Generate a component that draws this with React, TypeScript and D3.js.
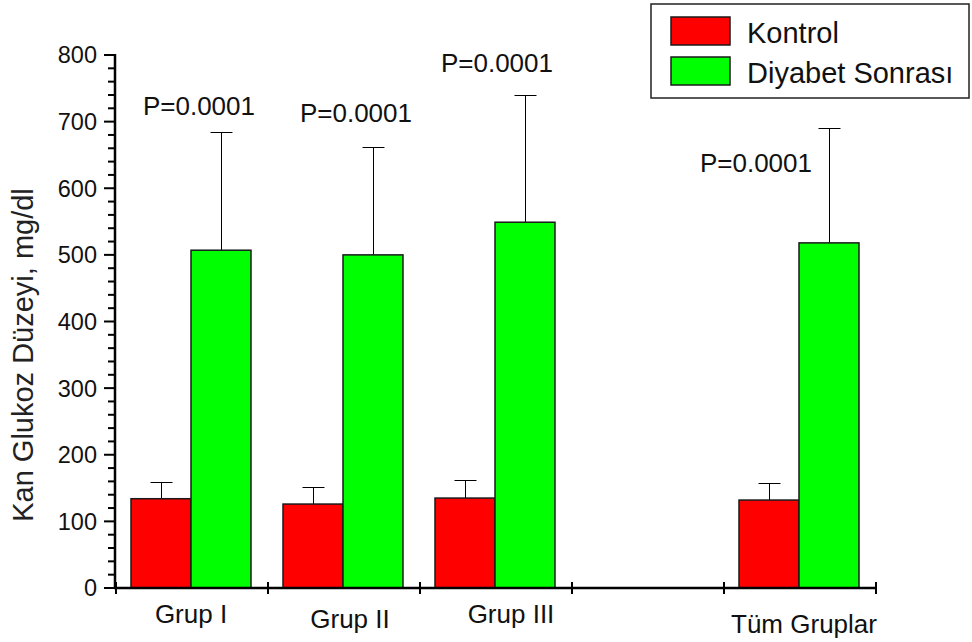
import React, { useMemo } from 'react';
import * as d3 from 'd3';

// categories (the 4th slot is an empty gap on the axis)
const categories = ['Grup I', 'Grup II', 'Grup III', 'gap', 'Tüm Gruplar'];
const categoryLabels = ['Grup I', 'Grup II', 'Grup III', '', 'Tüm Gruplar'];
const seriesNames = ['Kontrol', 'Diyabet Sonrası'];
const seriesColors = ['#ff0000', '#00ff00'];

const kontrol = [134, 126, 135, null, 132];
const kontrolErr = [25, 25, 27, null, 25];
const diyabet = [507, 500, 549, null, 518];
const diyabetErr = [177, 162, 191, null, 173];

// p-value annotations: text and the y value (data units) of their baseline
const pTexts = ['P=0.0001', 'P=0.0001', 'P=0.0001', '', 'P=0.0001'];
const pLevels = [710, 700, 775, null, 625];

const yTicks = [0, 100, 200, 300, 400, 500, 600, 700, 800];

const W = 972;
const H = 642;
const FONT = '"Liberation Sans", Arial, sans-serif';

// small label nudges to mimic the original layout
const labelDx = [0, 7, 16, 0, 5];
const labelDy = [35, 40, 35, 0, 45];
const pDx = [-22, -17, -28, 0, -73];

export default function App() {
  const x = useMemo(() => d3.scaleBand<string>().domain(categories).range([115, 875]).padding(0), []);
  const inner = useMemo(
    () => d3.scaleBand<string>().domain(seriesNames).range([0, x.bandwidth()]).paddingInner(0).paddingOuter(0.2667),
    [x]
  );
  const y = useMemo(() => d3.scaleLinear().domain([0, 800]).range([588, 55]), []);
  const minorTicks = d3.range(0, 801, 20).filter(v => v % 100 !== 0);
  const xTickPos = [...categories.map(c => x(c) as number), x.range()[1]];

  const series = [
    { name: seriesNames[0], values: kontrol, errs: kontrolErr, color: seriesColors[0] },
    { name: seriesNames[1], values: diyabet, errs: diyabetErr, color: seriesColors[1] },
  ];

  return (
    <svg width={W} height={H} style={{ position: 'absolute', left: 0, top: 0, background: '#fff' }} fontFamily={FONT}>
      <rect x={0} y={0} width={W} height={H} fill="#fff" />

      {/* bars + error bars */}
      {series.map(s =>
        categories.map((c, i) => {
          const v = s.values[i];
          const e = s.errs[i];
          if (v == null || e == null) return null;
          const bx = (x(c) as number) + (inner(s.name) as number);
          const bw = inner.bandwidth();
          const cx = Math.round(bx + bw / 2) + 0.5;
          const ty = Math.round(y(v + e)) + 0.5;
          return (
            <g key={`${s.name}-${c}`}>
              <line x1={cx} x2={cx} y1={y(v)} y2={ty} stroke="#000" strokeWidth={1} />
              <line x1={cx - 11} x2={cx + 11} y1={ty} y2={ty} stroke="#000" strokeWidth={1} />
              <rect x={bx} y={y(v)} width={bw} height={y(0) - y(v)} fill={s.color} stroke="#1a1a1a" strokeWidth={1.5} />
            </g>
          );
        })
      )}

      {/* p-value annotations */}
      {categories.map((c, i) => {
        const lvl = pLevels[i];
        if (lvl == null) return null;
        const gx = (x(c) as number) + (inner(seriesNames[1]) as number) + inner.bandwidth() / 2;
        return (
          <text key={`p-${c}`} x={gx + pDx[i]} y={y(lvl)} textAnchor="middle" fontSize={26} fill="#111">
            {pTexts[i]}
          </text>
        );
      })}

      {/* y axis */}
      <line x1={115} x2={115} y1={y(800) - 1} y2={y(0) + 1} stroke="#000" strokeWidth={2.5} />
      {yTicks.map(t => (
        <g key={`yt-${t}`}>
          <line x1={104} x2={115} y1={y(t)} y2={y(t)} stroke="#000" strokeWidth={2} />
          <text x={97} y={y(t)} dy="0.36em" textAnchor="end" fontSize={23.5} fill="#111">
            {t}
          </text>
        </g>
      ))}
      {minorTicks.map(t => (
        <line key={`ym-${t}`} x1={108} x2={115} y1={y(t)} y2={y(t)} stroke="#000" strokeWidth={2} />
      ))}

      {/* x axis */}
      <line x1={114} x2={877} y1={y(0)} y2={y(0)} stroke="#000" strokeWidth={2.5} />
      {xTickPos.map((p, i) => (
        <line key={`xt-${i}`} x1={p + 1} x2={p + 1} y1={y(0) - 6} y2={y(0) + 6} stroke="#000" strokeWidth={2} />
      ))}
      {categories.map((c, i) =>
        categoryLabels[i] ? (
          <text
            key={`xl-${c}`}
            x={(x(c) as number) + x.bandwidth() / 2 + labelDx[i]}
            y={y(0) + labelDy[i]}
            textAnchor="middle"
            fontSize={26}
            fill="#111"
          >
            {categoryLabels[i]}
          </text>
        ) : null
      )}

      {/* y axis title */}
      <text transform={`translate(33, 355) rotate(-90)`} textAnchor="middle" fontSize={29} fill="#222">
        Kan Glukoz Düzeyi, mg/dl
      </text>

      {/* legend */}
      <g>
        <rect x={651} y={4} width={318} height={94} fill="#fff" stroke="#222" strokeWidth={1.5} />
        {seriesNames.map((n, i) => (
          <g key={`lg-${n}`} transform={`translate(671, ${17 + i * 40})`}>
            <rect x={0} y={0} width={59} height={28} fill={seriesColors[i]} stroke="#1a1a1a" strokeWidth={1.5} />
            <text x={76} y={26} fontSize={29} fill="#111">
              {n}
            </text>
          </g>
        ))}
      </g>
    </svg>
  );
}
